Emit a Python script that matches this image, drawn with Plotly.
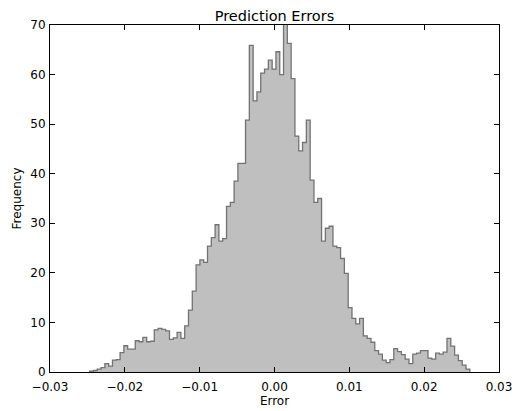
import plotly.graph_objects as go

# Histogram of prediction errors (100 bins)
bin_start = -0.0247
bin_end = 0.0261
counts = [
    0.15, 0.3, 0.6, 0.9, 1.7, 1.2, 2.4, 2.5, 3.9, 5.3,
    4.6, 4.6, 6.3, 6.1, 7.0, 6.1, 6.2, 8.5, 8.8, 8.6,
    8.3, 6.6, 6.9, 8.0, 6.8, 9.3, 12.5, 16.3, 21.6, 22.6,
    22.1, 25.4, 27.1, 29.7, 26.4, 26.9, 33.4, 34.2, 38.5, 42.1,
    42.1, 50.8, 65.9, 54.7, 56.5, 60.3, 61.1, 62.9, 61.1, 64.6,
    60.0, 74.0, 66.3, 59.2, 47.6, 44.6, 46.3, 50.8, 38.7, 34.2,
    35.0, 26.4, 29.0, 29.4, 25.4, 25.1, 22.9, 19.9, 13.0, 10.8,
    9.7, 10.8, 7.3, 6.8, 6.0, 4.3, 3.6, 2.4, 1.9, 2.5,
    4.7, 4.1, 3.5, 2.6, 1.7, 3.6, 3.8, 4.3, 4.3, 2.8,
    2.6, 3.8, 3.6, 4.0, 6.8, 5.2, 3.4, 2.3, 1.4, 0.6,
]
x_tick_vals = [-0.03, -0.02, -0.01, 0.0, 0.01, 0.02, 0.03]
x_tick_text = ["\u22120.03", "\u22120.02", "\u22120.01", "0.00", "0.01", "0.02", "0.03"]
y_tick_vals = [0, 10, 20, 30, 40, 50, 60, 70]

n = len(counts)
w = (bin_end - bin_start) / n
edges = [bin_start + i * w for i in range(n + 1)]

xs = [edges[0]] + edges[:n] + [edges[n], edges[n]]
ys = [0] + counts + [counts[-1], 0]

fig = go.Figure()
fig.add_trace(go.Scatter(
    x=xs, y=ys, mode="lines", line=dict(shape="hv", color="#737373", width=1.3),
    fill="tozeroy", fillcolor="#bfbfbf", hoverinfo="skip", showlegend=False,
))

font = "DejaVu Sans"
axis_common = dict(
    showline=True, linecolor="black", linewidth=1, mirror="ticks",
    ticks="inside", ticklen=5, tickwidth=1, tickcolor="black",
    showgrid=False, zeroline=False, automargin=False,
    tickfont=dict(family=font, size=12, color="black"),
)
fig.update_layout(
    width=522, height=411,
    margin=dict(l=50, r=23, t=25, b=39),
    paper_bgcolor="white", plot_bgcolor="white",
    title=dict(text="Prediction Errors", x=0.5, xanchor="center", xref="paper",
               y=1, yref="paper", yanchor="bottom", pad=dict(b=4),
               font=dict(family=font, size=14.5, color="black")),
    xaxis=dict(range=[-0.03, 0.03], tickvals=x_tick_vals, ticktext=x_tick_text,
               ticklabelstandoff=4,
               title=dict(text="Error", font=dict(family=font, size=12, color="black"), standoff=1),
               **axis_common),
    yaxis=dict(range=[0, 70], tickvals=y_tick_vals, ticklabelstandoff=1,
               title=dict(text="Frequency", font=dict(family=font, size=12, color="black"), standoff=6),
               **axis_common),
)
fig.write_html("out.html")
